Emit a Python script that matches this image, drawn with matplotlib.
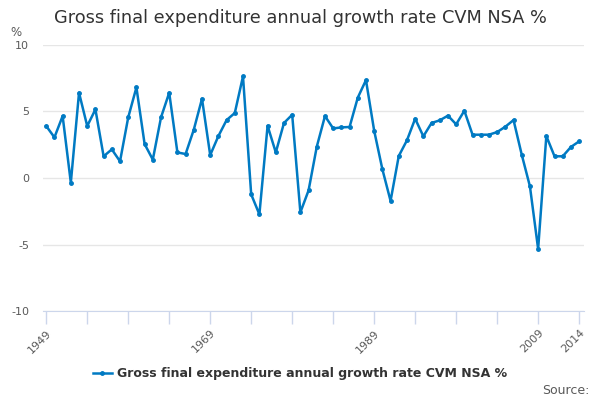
import numpy as np
import matplotlib
matplotlib.use("Agg")
import matplotlib.pyplot as plt

years = np.arange(1949, 2015)
growth = [3.9, 3.05, 4.65, -0.35, 6.4, 3.9, 5.15, 1.63, 2.15, 1.25,
          4.55, 6.8, 2.55, 1.38, 4.55, 6.4, 1.92, 1.8, 3.63, 5.95,
          1.72, 3.15, 4.35, 4.88, 7.63, -1.23, -2.73, 3.92, 1.92, 4.13,
          4.75, -2.58, -0.93, 2.35, 4.65, 3.72, 3.8, 3.83, 6.03, 7.35,
          3.55, 0.66, -1.72, 1.65, 2.83, 4.45, 3.13, 4.13, 4.33, 4.68,
          4.03, 5.05, 3.25, 3.25, 3.25, 3.45, 3.85, 4.35, 1.75, -0.63,
          -5.33, 3.15, 1.63, 1.63, 2.33, 2.75]
label = "Gross final expenditure annual growth rate CVM NSA %"
yticks = [-10, -5, 0, 5, 10]
xlabels = {1949: "1949", 1969: "1969", 1989: "1989", 2009: "2009", 2014: "2014"}

blue = "#007ac3"
grey = "#595959"

fig = plt.figure(figsize=(6, 4), dpi=100)
ax = fig.add_axes([0.072, 0.222, 0.901, 0.666])

ax.plot(years, growth, color=blue, lw=1.8, marker="o", ms=2.5, label=label,
        solid_joinstyle="round")

ax.set_xlim(1948.63, 2014.57)
ax.set_ylim(-10, 10)
ax.set_yticks(yticks)
ax.set_yticklabels([str(v) for v in yticks], color=grey, fontsize=8)
ax.grid(axis="y", color="#e6e6e6", lw=1)
ax.set_axisbelow(True)

xt = np.arange(1949, 2015, 5)
ax.set_xticks(xt)
ax.set_xticklabels([xlabels.get(int(t), "") for t in xt], rotation=45,
                   ha="right", rotation_mode="anchor", color=grey, fontsize=8)
ax.tick_params(axis="x", length=9, color="#ccd6eb", width=1, pad=3)
ax.tick_params(axis="y", length=0, pad=10)

for s in ["top", "right", "left"]:
    ax.spines[s].set_visible(False)
ax.spines["bottom"].set_color("#ccd6eb")

fig.text(0.5, 0.955, label, ha="center", va="center", fontsize=12.8, color="#333333")
fig.text(0.017, 0.92, "%", ha="left", va="center", fontsize=8.5, color=grey)
fig.text(0.982, 0.025, "Source:", ha="right", va="center", fontsize=9, color=grey)

leg = fig.legend(loc="center", bbox_to_anchor=(0.5, 0.066), frameon=False,
                 handlelength=1.5, handletextpad=0.4,
                 prop={"weight": "bold", "size": 9})
for t in leg.get_texts():
    t.set_color("#333333")

fig.savefig("out.png", dpi=100)
